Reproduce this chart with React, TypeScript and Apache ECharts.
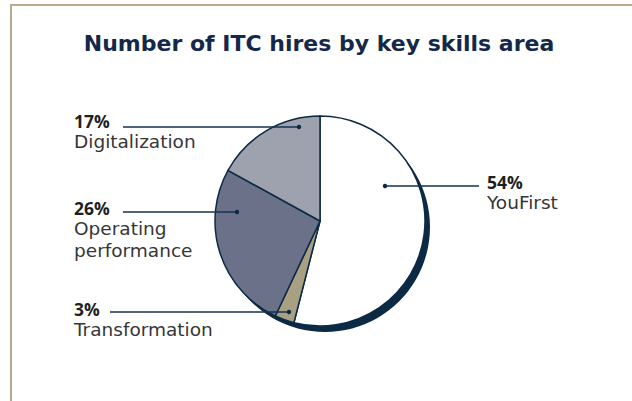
import React, { useEffect, useRef } from "react";
import * as echarts from "echarts";

const categories = ["YouFirst", "Transformation", "Operating performance", "Digitalization"];
const values = [54, 3, 26, 17];
const colors = ["#ffffff", "#a9a083", "#6b7189", "#9ea1ae"];
const titleText = "Number of ITC hires by key skills area";

// label layout: [labelX, labelY(top), lineStartX, lineY, dotX]
const labelBoxes = [
  [487, 171, 479, 186, 385],
  [74, 298, 110, 312, 289],
  [74, 197, 123, 212, 237],
  [74, 110, 123, 127, 299],
];

const FONT = "Open Sans";
const NAME_FONT = "DejaVu Sans";
const NAVY = "#0d2a45";
const LINE = "#163250";

export default function App() {
  const ref = useRef<HTMLDivElement>(null);
  useEffect(() => {
    if (!ref.current) return;
    const chart = echarts.init(ref.current, null, { renderer: "svg" });
    const center = [320, 221];
    const radius = 105;
    chart.setOption({
      animation: false,
      backgroundColor: "#ffffff",
      title: {
        text: titleText,
        left: 314,
        textAlign: "center",
        top: 27,
        textStyle: { fontFamily: "DejaVu Sans", fontWeight: "bold", fontSize: 22, color: "#14294a" },
      },
      graphic: [
        { type: "line", shape: { x1: 10, y1: 5, x2: 632, y2: 5 }, style: { stroke: "#b8ac8c", lineWidth: 2 } },
        { type: "line", shape: { x1: 11, y1: 4, x2: 11, y2: 401 }, style: { stroke: "#b8ac8c", lineWidth: 2 } },
        ...labelBoxes.map((b) => ({
          type: "line",
          z: 100,
          shape: { x1: b[2], y1: b[3], x2: b[4], y2: b[3] },
          style: { stroke: LINE, lineWidth: 1.3 },
        })),
        ...labelBoxes.map((b) => ({
          type: "circle",
          z: 100,
          shape: { cx: b[4], cy: b[3], r: 2.2 },
          style: { fill: NAVY },
        })),
      ],
      series: [
        {
          type: "pie",
          silent: true,
          center: [center[0] + 5, center[1] + 6],
          radius: radius,
          label: { show: false },
          labelLine: { show: false },
          data: [{ value: 1, itemStyle: { color: NAVY } }],
          z: 1,
        },
        {
          type: "pie",
          center,
          radius,
          startAngle: 90,
          clockwise: true,
          z: 2,
          itemStyle: { borderColor: NAVY, borderWidth: 1.5 },
          emphasis: { disabled: true },
          data: categories.map((c, i) => ({ name: c, value: values[i], itemStyle: { color: colors[i] } })),
          label: {
            show: true,
            position: "outside",
            formatter: (p: any) => `{p|${p.value}%}\n{n|${String(p.name).replace(" ", "\n")}}`,
            rich: {
              p: { fontFamily: FONT, fontWeight: "bold", fontSize: 17.5, color: "#1f1f1f", lineHeight: 21 },
              n: { fontFamily: NAME_FONT, fontSize: 18.5, color: "#363636", lineHeight: 21.5 },
            },
          },
          labelLine: { show: false },
          labelLayout: (params: any) => {
            const b = labelBoxes[params.dataIndex];
            return { x: b[0], y: b[1], align: "left", verticalAlign: "top" };
          },
        },
      ],
    });
    return () => chart.dispose();
  }, []);
  return <div ref={ref} style={{ position: "absolute", left: 0, top: 0, width: 632, height: 401 }} />;
}
